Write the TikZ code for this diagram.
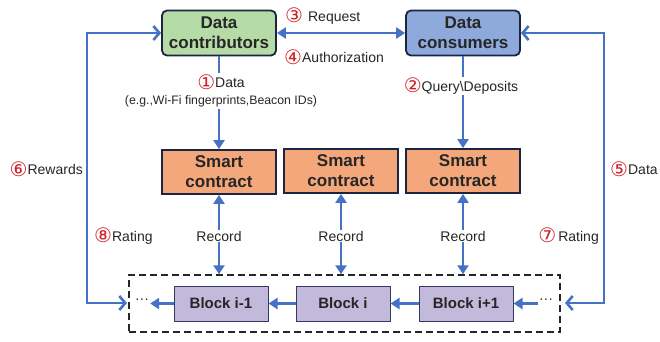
\documentclass[tikz,border=0pt]{standalone}
\usepackage{fontspec}
\setmainfont{Liberation Sans}
\newfontfamily\circfont{DejaVu Sans}
\usetikzlibrary{arrows.meta}
\definecolor{lblue}{HTML}{4472C4}
\definecolor{navy}{HTML}{1C2540}
\definecolor{txt}{HTML}{262626}
\definecolor{cred}{HTML}{D0202A}
\definecolor{gfill}{HTML}{B5DBA7}
\definecolor{bfill}{HTML}{8EA9DB}
\definecolor{ofill}{HTML}{F4A77A}
\definecolor{pfill}{HTML}{C3B9DA}
\definecolor{pborder}{HTML}{2F3B66}
\newcommand\cnum[1]{{\circfont\color{cred}\fontsize{20}{20}\selectfont\raisebox{-1.5pt}{#1}}}
\begin{document}
\begin{tikzpicture}[x=1pt,y=-1pt,
  actor/.style={draw=navy, line width=1.8pt, rounded corners=5pt, minimum width=114pt, minimum height=45pt, inner sep=0pt, align=center, text=txt, font=\bfseries\fontsize{17}{20}\selectfont},
  scbox/.style={draw=navy, line width=1.8pt, fill=ofill, minimum width=114pt, minimum height=44pt, inner sep=0pt, align=center, text=txt, font=\bfseries\fontsize{17}{20}\selectfont},
  blk/.style={draw=pborder, line width=1pt, fill=pfill, minimum width=94pt, minimum height=35pt, inner sep=0pt, text=txt, font=\bfseries\fontsize{15}{18}\selectfont},
  conn/.style={draw=lblue, line width=2.6pt},
  tri/.style={conn, -{Triangle[length=9pt,width=11pt]}},
  dtri/.style={conn, {Triangle[length=9pt,width=11pt]}-{Triangle[length=9pt,width=11pt]}},
  barb/.style={conn, {Straight Barb[length=6pt,width=14pt]}-{Straight Barb[length=6pt,width=14pt]}},
  lab/.style={fill=white, inner sep=1pt, text=txt, font=\fontsize{14}{16}\selectfont},
  plab/.style={inner sep=1pt, text=txt, font=\fontsize{14}{16}\selectfont},
  dots/.style={inner sep=1pt, text=txt, font=\fontsize{14}{14}\selectfont}
]
\useasboundingbox (0,0) rectangle (660,341);

% actors
\node[actor, fill=gfill] (contrib) at (219,33) {Data\\contributors};
\node[actor, fill=bfill] (consum) at (463,33) {Data\\consumers};

% smart contracts
\node[scbox] (sc1) at (219,172) {Smart\\contract};
\node[scbox] (sc2) at (341,171) {Smart\\contract};
\node[scbox] (sc3) at (463,171) {Smart\\contract};

% dashed chain box
\node[draw=txt, line width=1.5pt, dash pattern=on 7pt off 4pt, minimum width=431pt, minimum height=57pt, inner sep=0pt] (chain) at (344.5,303.5) {};

% blocks
\node[blk] (b1) at (221,303.5) {Block i-1};
\node[blk] (b2) at (343,303.5) {Block i};
\node[blk] (b3) at (466,303.5) {Block i+1};
\node[dots] (dl) at (142,301) {\textperiodcentered\textperiodcentered\textperiodcentered};
\node[dots] (dr) at (546,301) {\textperiodcentered\textperiodcentered\textperiodcentered};

% chain arrows
\draw[tri] (b3.west) -- (b2.east);
\draw[tri] (b2.west) -- (b1.east);
\draw[tri] (b1.west) -- (dl.east |- b1.west);
\draw[tri] (dr.west |- b3.east) -- (b3.east);

% request / authorization
\draw[dtri] (consum.west) -- (contrib.east);
\node[plab, anchor=west] (req) at (284,16) {\cnum{③}\hspace{5pt}Request};
\node[plab, anchor=west] (auth) at (283,57) {\cnum{④}Authorization};

% data down
\draw[tri] (contrib.south) -- (sc1.north);
\node[lab, align=center, fill=white, inner sep=2pt] (datalab) at (221,91)
  {\cnum{①}Data\\[1pt]{\fontsize{12.3}{14}\selectfont(e.g.,Wi-Fi fingerprints,Beacon IDs)}};

% query down
\draw[tri] (consum.south) -- (sc3.north);
\node[lab] (qlab) at (461,86) {\cnum{②}Query\textbackslash Deposits};

% record arrows
\draw[dtri] (sc1.south) -- (sc1.south |- chain.north);
\draw[dtri] (sc2.south) -- (sc2.south |- chain.north);
\draw[dtri] (sc3.south) -- (sc3.south |- chain.north);
\node[lab] (r1) at (219,236) {Record};
\node[lab] (r2) at (341,236) {Record};
\node[lab] (r3) at (463,236) {Record};

% left loop
\coordinate (lin) at (127,303);
\coordinate (lcorner) at (87,303);
\coordinate (ltop) at (87,33);
\draw[barb] (lin) -- (lcorner) -- (ltop) -- (contrib.west);
\node[plab, anchor=east] (rew) at (84,169) {\cnum{⑥}Rewards};
\node[plab, anchor=west] (rat8) at (93,236) {\cnum{⑧}Rating};

% right loop
\coordinate (rin) at (565,303);
\coordinate (rcorner) at (604,303);
\coordinate (rtop) at (604,33);
\draw[barb] (rin) -- (rcorner) -- (rtop) -- (consum.east);
\node[plab, anchor=west] (dat5) at (609,169) {\cnum{⑤}Data};
\node[plab, anchor=east] (rat7) at (600,236) {\cnum{⑦}\hspace{2pt}Rating};
\end{tikzpicture}
\end{document}
